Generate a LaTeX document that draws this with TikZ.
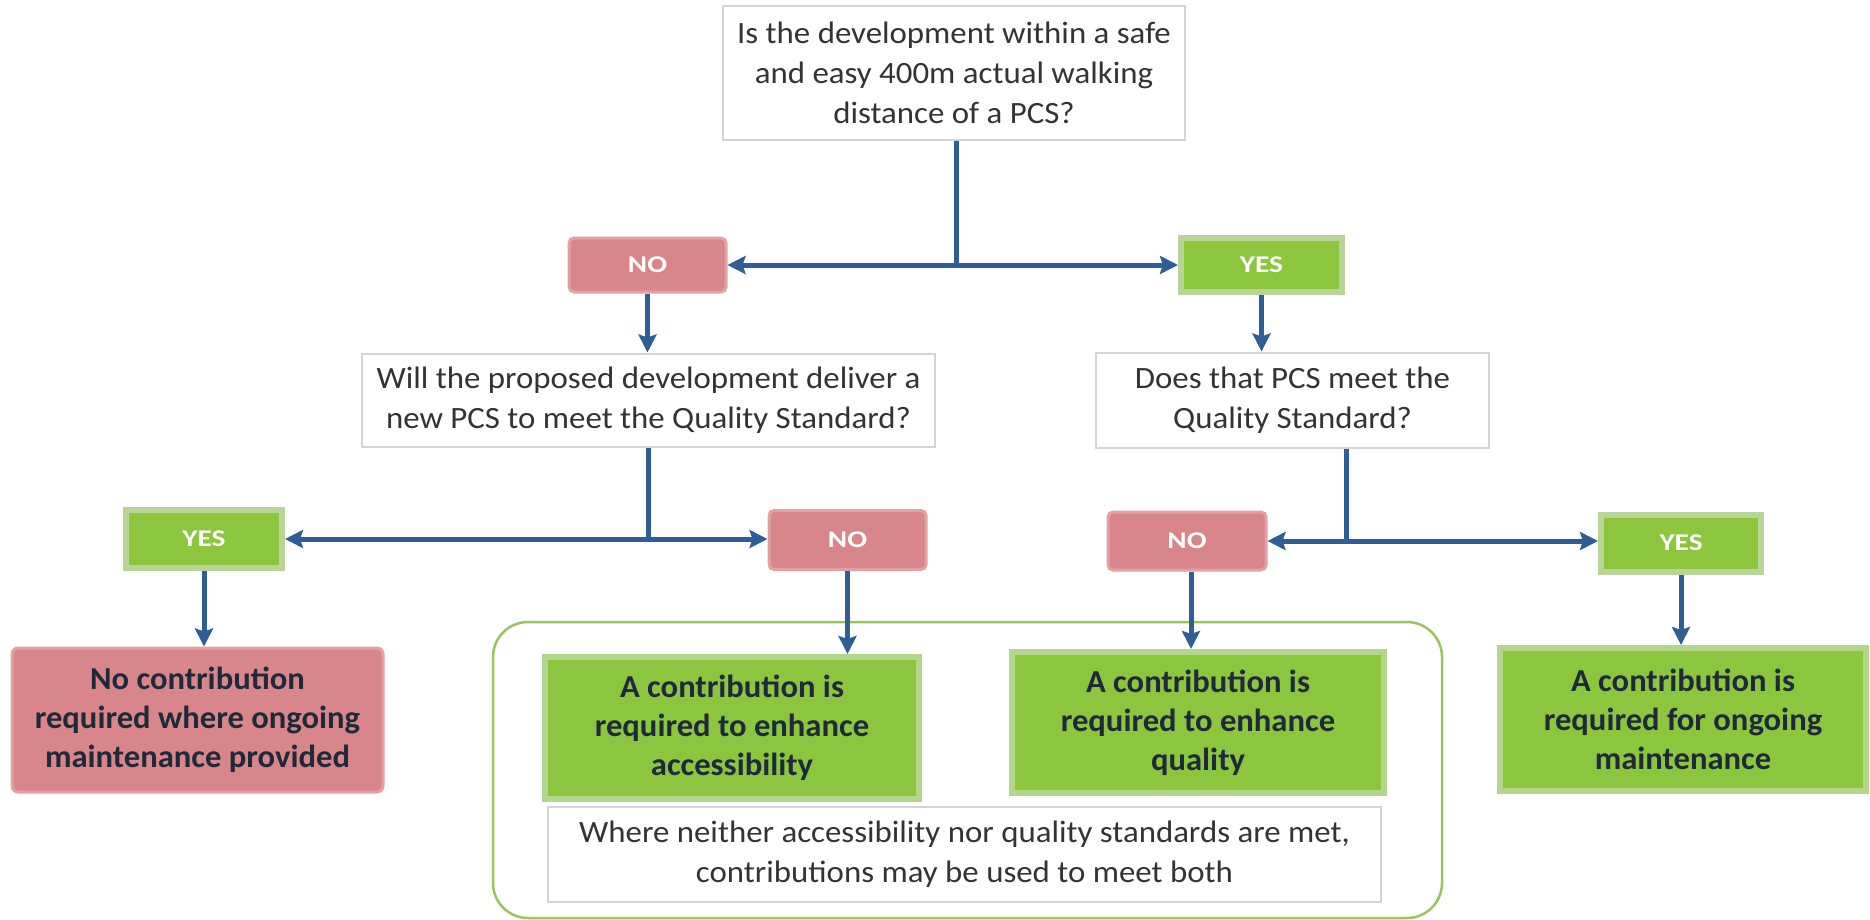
\documentclass[tikz,border=0pt]{standalone}
\usepackage{fontspec}
\setmainfont{Carlito}[FakeStretch=1.06]
\newfontfamily\widefont{Carlito}[FakeStretch=1.22]
\newfontfamily\resfont{Carlito}[FakeStretch=1.02]
\usetikzlibrary{arrows.meta}
\definecolor{arr}{HTML}{2E5E95}
\definecolor{qgray}{HTML}{D4D4D4}
\definecolor{qtext}{HTML}{333333}
\definecolor{redfill}{HTML}{D9868A}
\definecolor{redline}{HTML}{E2A2A5}
\definecolor{greenfill}{HTML}{8CC63F}
\definecolor{greenline}{HTML}{B2D68A}
\definecolor{yesline}{HTML}{B8D496}
\definecolor{rtext}{HTML}{1E2A3A}
\definecolor{contgreen}{HTML}{9CC45E}
\begin{document}
\begin{tikzpicture}[x=1pt,y=-1pt,
  qbox/.style={draw=qgray, line width=2pt, fill=white, text=qtext, align=center,
    font=\fontsize{31}{40}\selectfont, inner sep=0pt},
  nobox/.style={fill=redfill, draw=redline, line width=3pt, rounded corners=5pt,
    text=white, font=\widefont\bfseries\fontsize{24}{26}\selectfont, inner sep=0pt},
  yesbox/.style={fill=greenfill, draw=yesline, line width=6pt,
    text=white, font=\widefont\bfseries\fontsize{24}{26}\selectfont, inner sep=0pt},
  redres/.style={fill=redfill, draw=redline, line width=3pt, rounded corners=6pt,
    text=rtext, align=center, font=\resfont\bfseries\fontsize{32}{39}\selectfont, inner sep=0pt},
  greenres/.style={fill=greenfill, draw=greenline, line width=6pt,
    text=rtext, align=center, font=\resfont\bfseries\fontsize{32}{39}\selectfont, inner sep=0pt},
  container/.style={draw=contgreen, line width=2.5pt, rounded corners=35pt, inner sep=0pt},
  conn/.style={draw=arr, line width=5pt},
  arrow/.style={conn, -{Stealth[length=18pt,width=18pt,inset=3pt]}},
  darrow/.style={conn, {Stealth[length=18pt,width=18pt,inset=3pt]}-{Stealth[length=18pt,width=18pt,inset=3pt]}},
]
\useasboundingbox (0,0) rectangle (1870,920);
\fill[white] (0,0) rectangle (1870,920);

% container
\node[container, minimum width=949pt, minimum height=296pt] (cont) at (967.5,770) {};

% questions
\node[qbox, minimum width=462pt, minimum height=134pt] (q1) at (954,73)
  {Is the development within a safe\\and easy 400m actual walking\\distance of a PCS?};
\node[qbox, minimum width=573pt, minimum height=93pt] (q2) at (648.5,400)
  {Will the proposed development deliver a\\new PCS to meet the Quality Standard?};
\node[qbox, minimum width=393pt, minimum height=95pt] (q3) at (1292.5,400)
  {Does that PCS meet the\\Quality Standard?};

% yes / no
\node[nobox, minimum width=157pt, minimum height=54pt] (no1) at (647.5,265) {NO};
\node[yesbox, minimum width=161pt, minimum height=54pt] (yes1) at (1261.5,265) {YES};
\node[yesbox, minimum width=156pt, minimum height=58pt] (yes2) at (204,539) {YES};
\node[nobox, minimum width=157pt, minimum height=59pt] (no2) at (847.5,540) {NO};
\node[nobox, minimum width=158pt, minimum height=58pt] (no3) at (1187,541) {NO};
\node[yesbox, minimum width=160pt, minimum height=57pt] (yes3) at (1681,543) {YES};

% results
\node[redres, minimum width=371pt, minimum height=144pt] (r1) at (197.5,720)
  {No contribution\\required where ongoing\\maintenance provided};
\node[greenres, minimum width=374pt, minimum height=142pt] (g1) at (732,728)
  {A contribution is\\required to enhance\\accessibility};
\node[greenres, minimum width=372pt, minimum height=141pt] (g2) at (1198,722.5)
  {A contribution is\\required to enhance\\quality};
\node[greenres, minimum width=366pt, minimum height=143pt] (g3) at (1683,719.5)
  {A contribution is\\required for ongoing\\maintenance};
\node[qbox, minimum width=833pt, minimum height=95pt, text=qtext,
  font=\fontsize{31}{40}\selectfont] (foot) at (964.5,854.5)
  {Where neither accessibility nor quality standards are met,\\contributions may be used to meet both};

% connectors
\draw[conn] ([xshift=2pt]q1.south) -- ([xshift=2pt]q1.south |- no1.east);
\draw[darrow] (no1.east) -- (yes1.west);
\draw[arrow] (no1.south) -- (no1.south |- q2.north);
\draw[arrow] (yes1.south) -- (yes1.south |- q3.north);

\draw[conn] (q2.south) -- (q2.south |- yes2.east);
\draw[darrow] (yes2.east) -- (yes2.east -| no2.west);
\coordinate (q3b) at ([xshift=54pt]q3.south);
\draw[conn] (q3b) -- (q3b |- no3.east);
\draw[darrow] (no3.east) -- (no3.east -| yes3.west);

\draw[arrow] (yes2.south) -- (yes2.south |- r1.north);
\draw[arrow] (no2.south) -- (no2.south |- g1.north);
\draw[arrow] ([xshift=4pt]no3.south) -- ([xshift=4pt]no3.south |- g2.north);
\draw[arrow] (yes3.south) -- (yes3.south |- g3.north);
\end{tikzpicture}
\end{document}
